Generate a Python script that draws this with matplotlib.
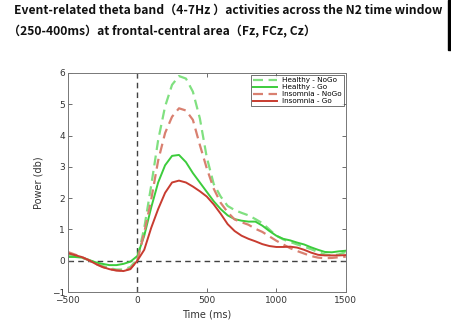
import numpy as np
import matplotlib
matplotlib.use("Agg")
import matplotlib.pyplot as plt
from matplotlib.patches import Rectangle

# Time axis (ms), 50 ms steps
time_ms = np.arange(-500, 1501, 50)

healthy_nogo = [0.18, 0.15, 0.10, 0.02, -0.08, -0.17, -0.24, -0.28, -0.28, -0.20,
                0.05, 1.05, 2.40, 3.85, 4.93, 5.62, 5.90, 5.82, 5.40, 4.55,
                3.30, 2.45, 2.05, 1.75, 1.62, 1.53, 1.45, 1.33, 1.20, 1.00,
                0.80, 0.68, 0.60, 0.52, 0.45, 0.37, 0.28, 0.20, 0.17, 0.20, 0.28]

healthy_go = [0.12, 0.12, 0.10, 0.03, -0.05, -0.10, -0.14, -0.14, -0.10, -0.03,
              0.15, 0.80, 1.70, 2.50, 3.05, 3.35, 3.38, 3.15, 2.80, 2.50,
              2.20, 1.90, 1.65, 1.45, 1.33, 1.28, 1.25, 1.25, 1.12, 0.95,
              0.80, 0.70, 0.65, 0.58, 0.52, 0.43, 0.35, 0.28, 0.27, 0.30, 0.32]

insomnia_nogo = [0.28, 0.20, 0.12, 0.02, -0.10, -0.20, -0.27, -0.31, -0.32, -0.25,
                 0.00, 0.90, 1.95, 3.20, 4.08, 4.60, 4.87, 4.80, 4.50, 3.70,
                 2.95, 2.30, 1.85, 1.55, 1.32, 1.23, 1.15, 1.02, 0.92, 0.78,
                 0.64, 0.52, 0.40, 0.31, 0.23, 0.15, 0.10, 0.08, 0.09, 0.11, 0.13]

insomnia_go = [0.24, 0.18, 0.12, 0.02, -0.10, -0.20, -0.27, -0.31, -0.33, -0.27,
               0.00, 0.35, 1.05, 1.65, 2.17, 2.50, 2.56, 2.50, 2.37, 2.22,
               2.05, 1.80, 1.50, 1.17, 0.95, 0.80, 0.70, 0.62, 0.53, 0.47,
               0.44, 0.44, 0.45, 0.42, 0.35, 0.26, 0.19, 0.17, 0.17, 0.17, 0.18]

series_labels = ["Healthy - NoGo", "Healthy - Go", "Insomnia - NoGo", "Insomnia - Go"]
x_ticks = [-500, 0, 500, 1000, 1500]
y_ticks = [-1, 0, 1, 2, 3, 4, 5, 6]

title_line1 = "Event-related theta band（4-7Hz ）activities across the N2 time window"
title_line2 = "（250-400ms）at frontal-central area（Fz, FCz, Cz）"

fig = plt.figure(figsize=(4.52, 3.33), dpi=100)
fig.patch.set_facecolor("white")
ax = fig.add_axes([0.150, 0.123, 0.615, 0.658])

styles = [
    dict(color="#80e080", ls=(0, (4.5, 2.5)), lw=1.6),
    dict(color="#3ccc3c", ls="-", lw=1.4),
    dict(color="#d98070", ls=(0, (4.5, 2.5)), lw=1.6),
    dict(color="#c83c30", ls="-", lw=1.4),
]
for data, label, st in zip([healthy_nogo, healthy_go, insomnia_nogo, insomnia_go],
                           series_labels, styles):
    ax.plot(time_ms, data, label=label, **st)

ax.axhline(0, color="#404040", ls=(0, (4, 3)), lw=1.0, zorder=1)
ax.axvline(0, color="#404040", ls=(0, (4, 3)), lw=1.0, zorder=1)

ax.set_xlim(-500, 1500)
ax.set_ylim(-1, 6)
ax.set_xticks(x_ticks)
ax.set_yticks(y_ticks)
ax.tick_params(direction="in", length=3, width=0.6, labelsize=6.5,
               top=True, right=True, colors="#555555", labelcolor="#333333", pad=2)
ax.tick_params(axis="x", pad=3)
for sp in ax.spines.values():
    sp.set_color("#777777")
    sp.set_linewidth(0.7)

ax.set_xlabel("Time (ms)", fontsize=7, color="#333333", labelpad=3)
ax.set_ylabel("Power (db)", fontsize=7, color="#333333", labelpad=6)

leg = ax.legend(loc="upper right", fontsize=5.2, frameon=True, fancybox=False,
                edgecolor="#333333", borderpad=0.3, handlelength=3.4,
                labelspacing=0.12, borderaxespad=0.3, handletextpad=0.6)
leg.get_frame().set_linewidth(0.6)

title_font = ["Noto Sans CJK SC", "DejaVu Sans"]
fig.text(0.031, 0.99, title_line1, fontsize=8.7, fontweight="bold",
         family=title_font, ha="left", va="top", color="#111111")
fig.text(0.018, 0.925, title_line2, fontsize=8.7, fontweight="bold",
         family=title_font, ha="left", va="top", color="#111111")

fig.patches.append(Rectangle((448 / 452, 1 - 50 / 333), 4 / 452, 50 / 333,
                             transform=fig.transFigure, color="black", zorder=5))

fig.savefig("out.png", dpi=100, facecolor="white")
